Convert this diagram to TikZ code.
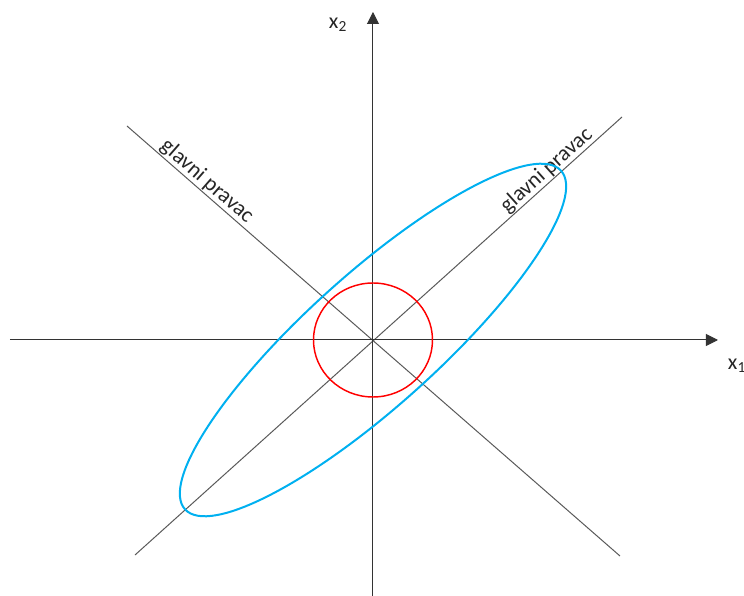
\documentclass[tikz,border=0pt]{standalone}
\usepackage{fontspec}
\setmainfont{Carlito}
\usetikzlibrary{arrows.meta}
\definecolor{plava}{RGB}{0,176,240}
\definecolor{crvena}{RGB}{255,0,0}

\begin{document}
\begin{tikzpicture}[x=0.75pt,y=0.75pt,
    os/.style={draw=black!80, line width=0.75pt, -{Triangle[length=9pt,width=9pt]}},
    pravac/.style={draw=black!65, line width=0.75pt},
    oznaka/.style={font=\fontsize{16.5}{19}\selectfont, text=black!85}]
    \useasboundingbox (-373,-256) rectangle (371,340);
    \coordinate (O) at (0,0);
    \coordinate (L) at (-363,0);
    \coordinate (R) at (345,0);
    \coordinate (D) at (0,-256);
    \coordinate (G) at (0,328);
    \coordinate (A1) at (-246,214);
    \coordinate (A2) at (247,-216);
    \coordinate (B1) at (-238,-215);
    \coordinate (B2) at (249,223);
    \draw[pravac] (A1) -- node[oznaka, sloped, above, pos=0.148, inner sep=0.5pt] (pA) {glavni pravac} (A2);
    \draw[pravac] (B1) -- node[oznaka, sloped, above, pos=0.86, inner sep=0.5pt] (pB) {glavni pravac} (B2);
    \draw[os] (L) -- (R);
    \draw[os] (D) -- (G);
    \node[oznaka] (x1) at (364,-26) {x\textsubscript{1}};
    \node[oznaka] (x2) at (-35,315) {x\textsubscript{2}};
    \draw[plava, line width=1.5pt, rotate=42] (O) ellipse [x radius=253, y radius=66];
    \draw[crvena, line width=1.1pt] (O) ellipse [x radius=59.5, y radius=57];
\end{tikzpicture}
\end{document}
